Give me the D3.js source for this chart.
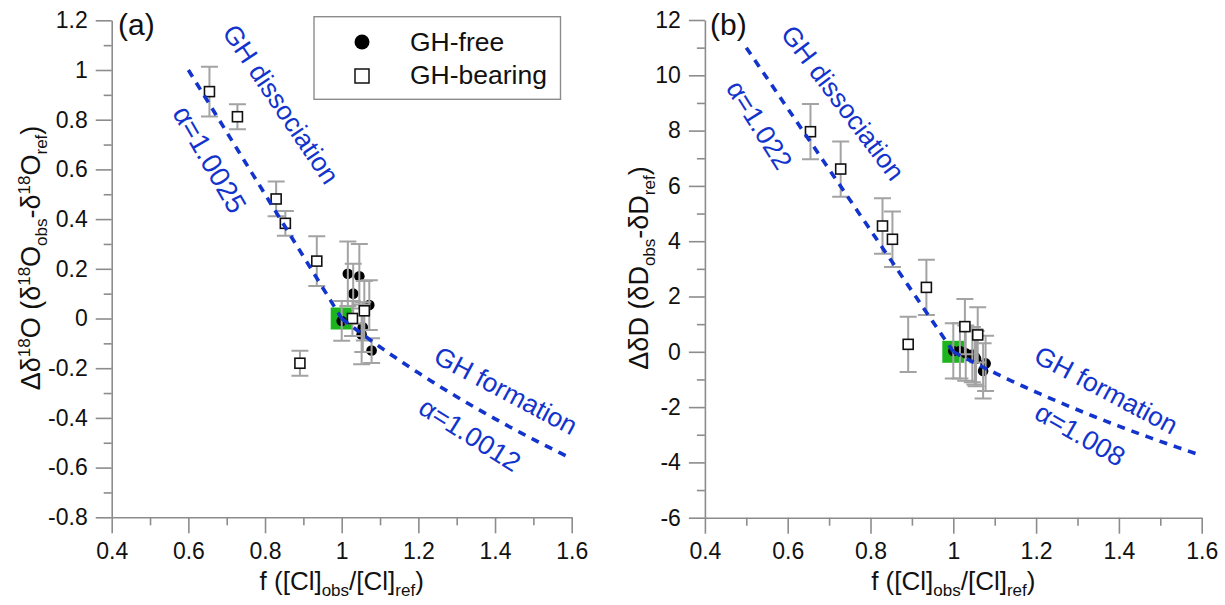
<!DOCTYPE html>
<html>
<head>
<meta charset="utf-8">
<script src="https://cdn.jsdelivr.net/npm/d3@7"></script>
<style>
  html, body { margin: 0; padding: 0; background: #fff; }
  svg { display: block; font-family: "Liberation Sans", Arial, sans-serif; }
</style>
</head>
<body>
<svg id="chart" width="1225" height="605"></svg>
<script>
// ---- data ----
// Chloride ratio f = [Cl]obs/[Cl]ref for each sample
const fFree    = [1.000, 1.016, 1.030, 1.046, 1.052, 1.055, 1.072, 1.078];
const fBearing = [0.655, 0.728, 0.829, 0.853, 0.891, 0.935, 1.028, 1.059];

// Oxygen isotope anomaly (‰) and 1-sigma error
const d18OFree        = [-0.01, 0.18, 0.10, 0.17, -0.064, -0.035, 0.054, -0.129];
const d18OFreeErr     = [0.08, 0.13, 0.12, 0.13, 0.12, 0.10, 0.10, 0.05];
const d18OBearing     = [0.913, 0.812, 0.481, 0.383, -0.180, 0.231, 0.0, 0.031];
const d18OBearingErr  = [0.10, 0.05, 0.07, 0.05, 0.05, 0.10, 0.07, 0.12];

// Hydrogen isotope anomaly (‰) and 1-sigma error
const dDFree        = [0.03, 0.03, -0.05, -0.10, -0.18, -0.25, -0.69, -0.42];
const dDFreeErr     = [1, 1, 1, 1, 1, 1, 1, 1];
const dDBearing     = [7.96, 6.61, 4.55, 4.07, 0.27, 2.33, 0.91, 0.61];
const dDBearingErr  = [1, 1, 1, 1, 1, 1, 1, 1];

// Fractionation factors for the model curves
const alphaDissO = 1.0025, alphaFormO = 1.0012;
const alphaDissD = 1.022,  alphaFormD = 1.008;

// Tick values
const xTicks  = [0.4, 0.6, 0.8, 1.0, 1.2, 1.4, 1.6];
const xMinor  = [0.5, 0.7, 0.9, 1.1, 1.3, 1.5];
const yTicksA = [-0.8, -0.6, -0.4, -0.2, 0, 0.2, 0.4, 0.6, 0.8, 1.0, 1.2];
const yMinorA = [-0.7, -0.5, -0.3, -0.1, 0.1, 0.3, 0.5, 0.7, 0.9, 1.1];
const yTicksB = [-6, -4, -2, 0, 2, 4, 6, 8, 10, 12];
const yMinorB = [-5, -3, -1, 1, 3, 5, 7, 9, 11];

const legendLabels = ["GH-free", "GH-bearing"];

// ---- styling ----
const AXIS = "#8c8c8c";
const ERR = "#a3a3a3";
const BLUE = "#1234cc";
const GREEN = "#1db51d";
const svg = d3.select("#chart");

const fmt = d => String(+(+d).toFixed(1));

// Model curves: mixing with dissociation water (f < 1), Rayleigh during formation (f > 1)
function dissociation(alpha, f) { return 1000 * (alpha - 1) * (1 - f); }
function formation(alpha, f) { return 1000 * (Math.pow(1 / f, alpha - 1) - 1); }

function drawPanel(cfg) {
  const g = svg.append("g");
  const x = d3.scaleLinear().domain([0.4, 1.6]).range(cfg.xr);
  const y = d3.scaleLinear().domain(cfg.yDom).range(cfg.yr);

  // axes
  g.append("g").attr("transform", `translate(0,${cfg.yr[0]})`)
    .call(d3.axisBottom(x).tickValues(xTicks).tickFormat(fmt).tickSize(16).tickPadding(9).tickSizeOuter(0));
  g.append("g").attr("transform", `translate(0,${cfg.yr[0]})`)
    .call(d3.axisBottom(x).tickValues(xMinor).tickFormat("").tickSize(8).tickSizeOuter(0))
    .select(".domain").remove();
  g.append("g").attr("transform", `translate(${cfg.xr[0]},0)`)
    .call(d3.axisLeft(y).tickValues(cfg.yTicks).tickFormat(fmt).tickSize(16).tickPadding(8).tickSizeOuter(0));
  g.append("g").attr("transform", `translate(${cfg.xr[0]},0)`)
    .call(d3.axisLeft(y).tickValues(cfg.yMinor).tickFormat("").tickSize(8).tickSizeOuter(0))
    .select(".domain").remove();
  g.selectAll(".domain, .tick line").attr("stroke", AXIS).attr("stroke-width", 1.6);
  g.selectAll(".tick text").attr("fill", "#111").style("font-size", "23px");

  // axis titles
  const xt = g.append("text")
    .attr("x", (cfg.xr[0] + cfg.xr[1]) / 2).attr("y", 590)
    .attr("text-anchor", "middle").attr("fill", "#111").style("font-size", "26px");
  xt.append("tspan").text("f ([Cl]");
  xt.append("tspan").attr("dy", 6).style("font-size", "17px").text("obs");
  xt.append("tspan").attr("dy", -6).text("/[Cl]");
  xt.append("tspan").attr("dy", 6).style("font-size", "17px").text("ref");
  xt.append("tspan").attr("dy", -6).text(")");

  const yt = g.append("text")
    .attr("transform", `translate(${cfg.ytX},${cfg.ytY}) rotate(-90)`)
    .attr("text-anchor", "middle").attr("fill", "#111").style("font-size", "27px");
  cfg.yTitle.forEach(p => {
    const t = yt.append("tspan").text(p[0]);
    if (p[1] === "sup") t.attr("dy", -10).style("font-size", "17px");
    else if (p[1] === "sub") t.attr("dy", 7).style("font-size", "17px");
    if (p[2]) t.attr("dy", p[2]);
  });

  // panel letter
  g.append("text").attr("x", cfg.letterX).attr("y", 35)
    .attr("fill", "#111").style("font-size", "30px").text(cfg.letter);

  // reference point
  g.append("rect")
    .attr("x", x(1) - 11).attr("y", y(0) - 11).attr("width", 22).attr("height", 22)
    .attr("fill", GREEN);

  const free = fFree.map((f, i) => ({ f, v: cfg.free[i], e: cfg.freeErr[i] }));
  const bear = fBearing.map((f, i) => ({ f, v: cfg.bear[i], e: cfg.bearErr[i] }));

  // GH-free samples
  g.selectAll("circle.free").data(free).join("circle")
    .attr("cx", d => x(d.f)).attr("cy", d => y(d.v)).attr("r", 5.3)
    .attr("fill", "#000");

  // error bars
  const all = free.concat(bear);
  const eb = g.append("g").attr("stroke", ERR).attr("stroke-width", 2).attr("fill", "none");
  eb.selectAll("path").data(all).join("path")
    .attr("d", d => {
      const cx = x(d.f), t = y(d.v + d.e), b = y(d.v - d.e);
      return `M${cx},${t}V${b}M${cx - 8.5},${t}H${cx + 8.5}M${cx - 8.5},${b}H${cx + 8.5}`;
    });

  // GH-bearing samples
  g.selectAll("rect.bear").data(bear).join("rect")
    .attr("x", d => x(d.f) - 5).attr("y", d => y(d.v) - 5)
    .attr("width", 10).attr("height", 10)
    .attr("fill", "#fff").attr("stroke", "#111").attr("stroke-width", 1.6);

  // model curves
  const line = d3.line().x(d => x(d[0])).y(d => y(d[1]));
  const fd = d3.range(cfg.fStart, 1.0001, 0.01);
  const ff = d3.range(1, 1.6001, 0.01);
  g.append("path").datum(fd.map(f => [f, dissociation(cfg.aDiss, f)]))
    .attr("d", line).attr("fill", "none").attr("stroke", BLUE)
    .attr("stroke-width", 3.6).attr("stroke-dasharray", "8,7");
  g.append("path").datum(ff.map(f => [f, formation(cfg.aForm, f)]))
    .attr("d", line).attr("fill", "none").attr("stroke", BLUE)
    .attr("stroke-width", 3.6).attr("stroke-dasharray", "8,7");

  // curve annotations
  cfg.notes.forEach(n => {
    g.append("text")
      .attr("transform", `translate(${x(n.f)},${y(n.v)}) rotate(${n.rot})`)
      .attr("text-anchor", "middle").attr("dominant-baseline", "central")
      .attr("fill", BLUE).style("font-size", n.size + "px").text(n.text);
  });
}

drawPanel({
  xr: [111.7, 571.7], yDom: [-0.8, 1.2], yr: [517.3, 20.3],
  yTicks: yTicksA, yMinor: yMinorA,
  free: d18OFree, freeErr: d18OFreeErr, bear: d18OBearing, bearErr: d18OBearingErr,
  aDiss: alphaDissO, aForm: alphaFormO, fStart: 0.6,
  letter: "(a)", letterX: 118,
  ytX: 40, ytY: 258,
  yTitle: [["Δδ"], ["18", "sup"], ["O (δ", null, 10], ["18", "sup"], ["O", null, 10], ["obs", "sub"], ["-δ", null, -7], ["18", "sup", -10], ["O", null, 10], ["ref", "sub"], [")", null, -7]],
  notes: [
    { f: 0.841, v: 0.862, rot: 56, size: 26.5, text: "GH dissociation" },
    { f: 0.655, v: 0.640, rot: 60, size: 28, text: "α=" + alphaDissO },
    { f: 1.428, v: -0.291, rot: 28, size: 26.5, text: "GH formation" },
    { f: 1.334, v: -0.468, rot: 32, size: 27, text: "α=" + alphaFormO }
  ]
});

drawPanel({
  xr: [704.9, 1201.7], yDom: [-6, 12], yr: [517.7, 20.0],
  yTicks: yTicksB, yMinor: yMinorB,
  free: dDFree, freeErr: dDFreeErr, bear: dDBearing, bearErr: dDBearingErr,
  aDiss: alphaDissD, aForm: alphaFormD, fStart: 0.5,
  letter: "(b)", letterX: 710,
  ytX: 648, ytY: 268,
  yTitle: [["ΔδD (δD"], ["obs", "sub"], ["-δD", null, -7], ["ref", "sub"], [")", null, -7]],
  notes: [
    { f: 0.733, v: 9.0, rot: 53, size: 26.5, text: "GH dissociation" },
    { f: 0.531, v: 8.2, rot: 58, size: 27, text: "α=" + alphaDissD },
    { f: 1.369, v: -1.39, rot: 28, size: 26.5, text: "GH formation" },
    { f: 1.306, v: -3.0, rot: 30, size: 27, text: "α=" + alphaFormD }
  ]
});

// legend
const lg = svg.append("g");
lg.append("rect").attr("x", 314).attr("y", 16.7).attr("width", 246.5).attr("height", 82.6)
  .attr("fill", "#fff").attr("stroke", AXIS).attr("stroke-width", 1.4);
lg.append("circle").attr("cx", 362).attr("cy", 42).attr("r", 7.5).attr("fill", "#000");
lg.append("rect").attr("x", 355).attr("y", 69).attr("width", 14).attr("height", 14)
  .attr("fill", "#fff").attr("stroke", "#111").attr("stroke-width", 1.5);
lg.selectAll("text").data(legendLabels).join("text")
  .attr("x", 410).attr("y", (d, i) => 50.5 + i * 33.5)
  .attr("fill", "#111").style("font-size", "26.5px").text(d => d);
</script>
</body>
</html>
